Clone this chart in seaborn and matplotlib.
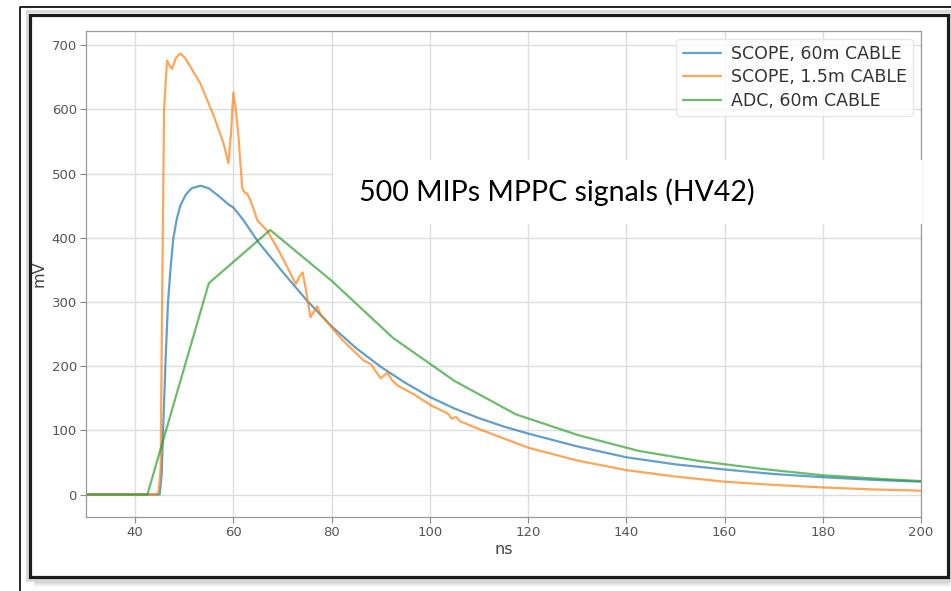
import numpy as np
import pandas as pd
import matplotlib
matplotlib.use("Agg")
import matplotlib.pyplot as plt
from matplotlib.patches import Rectangle
from matplotlib.lines import Line2D
import seaborn as sns

# ---- data -----------------------------------------------------------------
scope60_ns = [30, 45.0, 45.4, 45.7, 46.2, 46.7, 47.3, 47.8, 48.5, 49.2, 50.3,
              51.5, 53.3, 55, 57, 59, 60, 62, 65, 70, 75, 80, 85, 90, 95, 100,
              105, 110, 115, 120, 130, 140, 150, 160, 170, 180, 190, 200]
scope60_mv = [0, 0, 30, 100, 210, 300, 360, 400, 430, 450, 467,
              477, 481, 477, 465, 452, 447, 428, 394, 347, 302, 262, 228, 199, 174, 152,
              134, 119, 106, 95, 75, 58, 47, 39, 32, 27, 23, 20]

scope15_ns = [30, 44.3, 44.8, 45.2, 45.5, 45.9, 46.5, 47.0, 47.5, 48.3, 49.2,
              50.2, 53.3, 56, 58, 59, 59.5, 60, 60.5, 61, 61.8, 62.3, 62.8,
              63.5, 64.9, 66.9, 69.6, 72.7, 73.5, 74.1, 74.7, 75.7, 76.4, 77.1,
              77.8, 79.2, 82, 86.5, 88, 89, 90, 91.4, 92.3, 93.4, 97, 100.2,
              103.7, 104.5, 105.3, 106.2, 108.4, 112.4, 120, 130, 140, 150,
              160, 170, 180, 190, 200]
scope15_mv = [0, 0, 5, 40, 300, 600, 676, 668, 663, 680, 687,
              680, 640, 590, 547, 516, 560, 626, 600, 562, 478, 470, 469,
              458, 427, 411, 375, 328, 340, 346, 322, 276, 285, 293,
              280, 268, 242, 209, 203, 192, 181, 190, 178, 170, 155, 139,
              126, 118, 121, 114, 107, 95, 73, 53, 38, 28,
              20, 15, 11, 8, 6]

adc60_ns = [30, 42.5, 55, 67.5, 80, 92.5, 105, 117.5, 130, 142.5, 155,
            167.5, 180, 192.5, 205]
adc60_mv = [0, 0, 329, 412, 333, 244, 177, 125, 93, 68, 52,
            40, 30, 24, 19]

series_names = ["SCOPE, 60m CABLE", "SCOPE, 1.5m CABLE", "ADC, 60m CABLE"]
x_ticks = [40, 60, 80, 100, 120, 140, 160, 180, 200]
y_ticks = [0, 100, 200, 300, 400, 500, 600, 700]
caption = "500 MIPs MPPC signals (HV42)"

df = pd.concat([
    pd.DataFrame({"ns": scope60_ns, "mV": scope60_mv, "series": series_names[0]}),
    pd.DataFrame({"ns": scope15_ns, "mV": scope15_mv, "series": series_names[1]}),
    pd.DataFrame({"ns": adc60_ns, "mV": adc60_mv, "series": series_names[2]}),
], ignore_index=True)

# ---- style ----------------------------------------------------------------
sns.set_style("whitegrid", {
    "grid.color": "#dcdcdc",
    "axes.edgecolor": "#9a9a9a",
    "xtick.bottom": True,
    "ytick.left": True,
    "xtick.color": "#8a8a8a",
    "ytick.color": "#8a8a8a",
    "text.color": "#444444",
    "axes.labelcolor": "#444444",
})
plt.rcParams["font.family"] = ["DejaVu Sans"]

W, H = 951, 591
fig = plt.figure(figsize=(W / 100, H / 100), dpi=100)
fig.patch.set_facecolor("white")


def fx(px):
    return px / W


def fy(py):
    return 1 - py / H


# slide-style frame around the plot
fig.add_artist(Line2D([fx(19.5), fx(19.5), fx(951)], [fy(591), fy(7), fy(7)],
                      transform=fig.transFigure, color="black", lw=1.2, zorder=-5))
for i, a in enumerate([0.35, 0.3, 0.25, 0.2, 0.15, 0.1, 0.06, 0.03]):
    fig.add_artist(Rectangle((fx(34), fy(579 + i + 1)), fx(950) - fx(34), 1 / H,
                             transform=fig.transFigure, facecolor="#303030",
                             edgecolor="none", alpha=a, zorder=-4))
fig.add_artist(Rectangle((fx(27), fy(580)), fx(950) - fx(27), fy(11) - fy(580),
                         transform=fig.transFigure, facecolor="none",
                         edgecolor="#d8d8d8", lw=2.0, zorder=-4))
fig.add_artist(Rectangle((fx(30), fy(576.5)), fx(947.5) - fx(30), fy(15) - fy(576.5),
                         transform=fig.transFigure, facecolor="white",
                         edgecolor="#1c1c1c", lw=2.3, zorder=-3))

ax = fig.add_axes([fx(86), fy(517), fx(921) - fx(86), fy(31) - fy(517)])
ax.set_facecolor("white")

palette = ["#1f77b4", "#ff7f0e", "#2ca02c"]
sns.lineplot(data=df, x="ns", y="mV", hue="series", palette=palette,
             estimator=None, sort=False, lw=1.6, alpha=0.7, ax=ax)

ax.set_xlim(30, 200)
ax.set_ylim(-35, 722)
ax.set_xticks(x_ticks)
ax.set_yticks(y_ticks)
ax.tick_params(axis="both", length=4, width=0.8, labelsize=9.5,
               labelcolor="#555555", pad=2.5)
for s in ax.spines.values():
    s.set_linewidth(0.9)
ax.grid(True, lw=1.0, color="#dcdcdc")
ax.set_xlabel("ns", fontsize=11.5, labelpad=2)
ax.set_ylabel("mV", fontsize=11.5, labelpad=4)

leg = ax.legend(loc="upper right", fontsize=12.5, frameon=True, framealpha=0.8,
                edgecolor="#e2e2e2", handlelength=2.2, handletextpad=0.6,
                labelspacing=0.32, borderaxespad=0.45, borderpad=0.35,
                title=None)
for t in leg.get_texts():
    t.set_color("#333333")

# caption box overlaid on the plot area
fig.add_artist(Rectangle((fx(333), fy(224)), fx(922) - fx(333), fy(160) - fy(224),
                         transform=fig.transFigure, facecolor="white",
                         edgecolor="none", zorder=5))
fig.text(fx(359), fy(201), caption, fontsize=20.5, family=["Lato", "DejaVu Sans"],
         color="black", ha="left", va="baseline", zorder=6)

fig.savefig("out.png", dpi=100, facecolor="white")
